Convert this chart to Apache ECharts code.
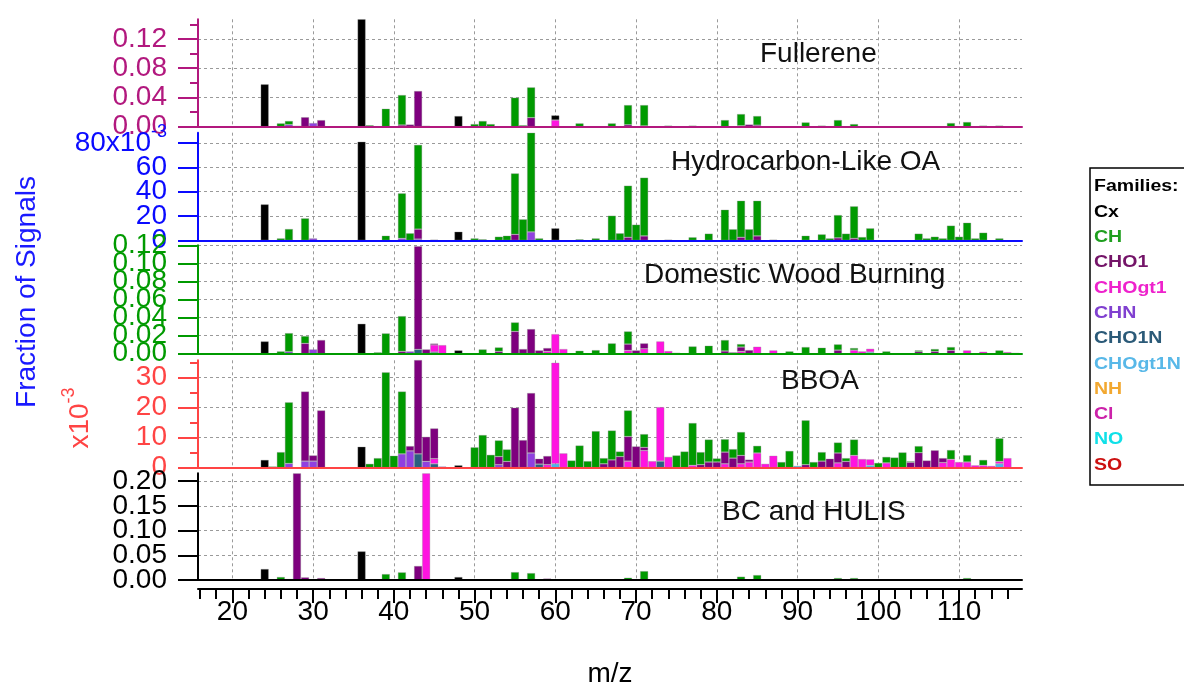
<!DOCTYPE html>
<html><head><meta charset="utf-8">
<script src="https://cdn.jsdelivr.net/npm/echarts@6/dist/echarts.min.js"></script>
<style>html,body{margin:0;padding:0;background:#fff}#c{width:1184px;height:686px}</style>
</head><body><div id="c"></div>
<script>
// ---------------- DATA ----------------
const mzValues = [16,17,18,19,20,21,22,23,24,25,26,27,28,29,30,31,32,33,34,35,36,37,38,39,40,41,42,43,44,45,46,47,48,49,50,51,52,53,54,55,56,57,58,59,60,61,62,63,64,65,66,67,68,69,70,71,72,73,74,75,76,77,78,79,80,81,82,83,84,85,86,87,88,89,90,91,92,93,94,95,96,97,98,99,100,101,102,103,104,105,106,107,108,109,110,111,112,113,114,115,116,117];
const xTickValues = [20,30,40,50,60,70,80,90,100,110];
const panelTitles = ['Fullerene','Hydrocarbon-Like OA','Domestic Wood Burning','BBOA','BC and HULIS'];
const familyNames = ['Cx','CH','CHO1','CHOgt1','CHN','CHO1N','CHOgt1N','NH','Cl','NO','SO'];

// Fullerene
const fulCx = [[24,0.058],[36,0.147],[48,0.0146],[60,0.0064]];
const fulCH = [[26,0.0046],[27,0.005],[37,0.002],[39,0.0246],[41,0.041],[50,0.0036],[51,0.0078],[52,0.0036],[55,0.0397],[56,0.002],[57,0.0415],[63,0.0046],[67,0.0046],[69,0.027],[71,0.0285],[74,0.0015],[77,0.0015],[81,0.0091],[83,0.016],[85,0.0125],[91,0.0059],[93,0.0015],[95,0.0091],[97,0.0036],[109,0.005],[111,0.0064],[113,0.0015],[115,0.0015]];
const fulCHO1 = [[28,0.0012],[29,0.013],[31,0.009],[41,0.0023],[42,0.003],[43,0.0488],[57,0.0123],[69,0.0026],[71,0.0011],[83,0.0013],[84,0.003],[85,0.0021]];
const fulCHOgt1 = [[60,0.0091]];
const fulCHN = [[27,0.0028],[30,0.005],[44,0.0012]];
// Hydrocarbon-Like OA
const hoaCx = [[24,0.0296],[36,0.0812],[48,0.0071],[60,0.0099]];
const hoaCH = [[26,0.0016],[27,0.0093],[29,0.0181],[39,0.0038],[41,0.0371],[42,0.0058],[43,0.0694],[50,0.0016],[51,0.0008],[53,0.003],[54,0.0038],[55,0.0502],[56,0.0173],[57,0.0817],[58,0.0016],[63,0.0008],[65,0.0016],[67,0.0203],[68,0.0058],[69,0.0425],[70,0.0129],[71,0.048],[74,0.0005],[77,0.0025],[79,0.0055],[81,0.0252],[82,0.0091],[83,0.0301],[84,0.0091],[85,0.029],[91,0.0038],[93,0.0049],[94,0.0016],[95,0.0188],[96,0.0055],[97,0.0264],[98,0.0027],[99,0.0099],[105,0.0055],[106,0.0016],[107,0.003],[108,0.0016],[109,0.0121],[110,0.003],[111,0.0145],[112,0.0016],[113,0.0063],[115,0.0016]];
const hoaCHO1 = [[43,0.0082],[55,0.0049],[69,0.0025],[71,0.0036],[83,0.0025],[85,0.0036],[95,0.002],[97,0.0016]];
const hoaCHOgt1 = [[45,0.0005],[87,0.0005]];
const hoaCHN = [[30,0.0016],[41,0.0016],[43,0.001],[57,0.0069]];
// Domestic Wood Burning
const dwbCx = [[24,0.0137],[36,0.0333],[48,0.0037]];
const dwbCH = [[26,0.0026],[27,0.0207],[29,0.0081],[38,0.0015],[39,0.0226],[41,0.0392],[51,0.0048],[53,0.0044],[55,0.01],[63,0.0033],[65,0.004],[67,0.0115],[69,0.0141],[77,0.0081],[79,0.0089],[81,0.0122],[83,0.0033],[89,0.0026],[91,0.0074],[93,0.0067],[95,0.0064],[97,0.0023],[101,0.0026],[105,0.0015],[107,0.0026],[109,0.0037],[115,0.0037],[117,0.0008]];
const dwbCHO1 = [[29,0.0115],[31,0.0152],[41,0.0026],[43,0.1147],[44,0.0048],[45,0.0015],[53,0.0026],[55,0.0248],[56,0.0052],[57,0.0274],[58,0.0037],[59,0.0037],[69,0.007],[70,0.0037],[71,0.006],[75,0.001],[81,0.003],[82,0.0015],[83,0.0048],[84,0.004],[95,0.004],[105,0.0022],[107,0.0026],[109,0.0037]];
const dwbCHOgt1 = [[45,0.008],[46,0.0096],[59,0.0026],[60,0.0218],[61,0.0052],[69,0.0037],[71,0.0055],[73,0.0137],[74,0.003],[83,0.0026],[85,0.0078],[87,0.0037],[97,0.004],[98,0.0026],[99,0.0037],[111,0.0037],[113,0.0022],[116,0.0018]];
const dwbCHN = [[27,0.0022],[30,0.0048],[42,0.0026]];
const dwbCHO1N = [[43,0.0048],[45,0.0018]];
const dwbCHOgt1N = [[99,0.0018]];
// BBOA
const bbCx = [[24,0.0026],[36,0.007],[48,0.0008]];
const bbCH = [[25,0.0004],[26,0.0052],[27,0.0204],[37,0.0013],[38,0.0032],[39,0.0318],[40,0.004],[41,0.0208],[50,0.0068],[51,0.0109],[52,0.0043],[53,0.0054],[54,0.004],[62,0.0024],[63,0.0074],[64,0.0022],[65,0.0122],[66,0.0019],[67,0.0098],[68,0.0017],[69,0.0087],[71,0.0044],[75,0.0041],[76,0.0054],[77,0.0141],[78,0.0042],[79,0.0075],[80,0.0012],[81,0.0043],[82,0.003],[83,0.0078],[85,0.0024],[88,0.0019],[89,0.0056],[91,0.0148],[92,0.0019],[93,0.003],[95,0.0035],[96,0.0011],[97,0.0053],[100,0.0016],[101,0.002],[102,0.0034],[103,0.0051],[104,0.0003],[105,0.0022],[109,0.0031],[111,0.0023],[113,0.0018],[115,0.0077]];
const bbCHO1 = [[29,0.0232],[30,0.0019],[31,0.0191],[42,0.0016],[43,0.0314],[44,0.0082],[45,0.0101],[53,0.0027],[54,0.0021],[55,0.02],[56,0.0092],[57,0.02],[58,0.0018],[59,0.0029],[66,0.0013],[67,0.0026],[68,0.0037],[69,0.0082],[70,0.0071],[71,0.0011],[78,0.001],[79,0.0019],[80,0.0019],[81,0.0039],[82,0.0032],[83,0.0028],[84,0.0008],[91,0.001],[93,0.0022],[94,0.003],[95,0.0033],[96,0.0021],[104,0.0018],[105,0.005],[106,0.0024],[107,0.0058],[108,0.0015]];
const bbCHOgt1 = [[45,0.0017],[59,0.001],[60,0.0337],[61,0.0048],[69,0.0022],[71,0.0057],[72,0.0022],[73,0.018],[74,0.0036],[77,0.0008],[81,0.0013],[83,0.0013],[84,0.0019],[85,0.0049],[86,0.0013],[87,0.004],[95,0.0016],[97,0.0041],[98,0.0029],[99,0.002],[101,0.0016],[108,0.0017],[109,0.0028],[110,0.0019],[111,0.0019],[112,0.0008],[113,0.0008],[114,0.0006],[115,0.0008],[116,0.0032]];
const bbCHN = [[27,0.0014],[29,0.0022],[30,0.0022],[41,0.0046],[42,0.0056],[44,0.0021],[46,0.0004],[53,0.001],[57,0.0049]];
const bbCHO1N = [[43,0.0046],[45,0.0013],[58,0.0012],[73,0.0022]];
const bbCHOgt1N = [[60,0.0013],[90,0.0006],[99,0.0008],[115,0.0013]];
// BC and HULIS
const bchCx = [[24,0.0223],[36,0.058],[48,0.006]];
const bchCH = [[26,0.0061],[27,0.002],[39,0.012],[41,0.0155],[55,0.016],[57,0.014],[69,0.0047],[71,0.018],[83,0.0068],[85,0.01],[95,0.004],[97,0.004],[111,0.004]];
const bchCHO1 = [[28,0.216],[29,0.0054],[31,0.004],[43,0.0284],[59,0.003]];
const bchCHOgt1 = [[44,0.216]];

const panelData = [
  {Cx:fulCx, CH:fulCH, CHO1:fulCHO1, CHOgt1:fulCHOgt1, CHN:fulCHN},
  {Cx:hoaCx, CH:hoaCH, CHO1:hoaCHO1, CHOgt1:hoaCHOgt1, CHN:hoaCHN},
  {Cx:dwbCx, CH:dwbCH, CHO1:dwbCHO1, CHOgt1:dwbCHOgt1, CHN:dwbCHN, CHO1N:dwbCHO1N, CHOgt1N:dwbCHOgt1N},
  {Cx:bbCx, CH:bbCH, CHO1:bbCHO1, CHOgt1:bbCHOgt1, CHN:bbCHN, CHO1N:bbCHO1N, CHOgt1N:bbCHOgt1N},
  {Cx:bchCx, CH:bchCH, CHO1:bchCHO1, CHOgt1:bchCHOgt1}
];

// ---------------- STYLE / LAYOUT ----------------
const FONT = 'Liberation Sans, Arial, sans-serif';
const barColor = {Cx:'#000000', CH:'#009a00', CHO1:'#7e007e', CHOgt1:'#ff14e0', CHN:'#9040e0', CHO1N:'#2a5f80', CHOgt1N:'#48b4f0'};
const legendColor = {Cx:'#000000', CH:'#1f9f1f', CHO1:'#741468', CHOgt1:'#ee22cc', CHN:'#8040d0', CHO1N:'#2b5a78', CHOgt1N:'#58b8e8', NH:'#f2a830', Cl:'#cc22aa', NO:'#10e0e8', SO:'#cc1111'};
const stackOrder = ['CHOgt1N','CHO1N','CHN','CHOgt1','CHO1','CH','Cx'];
const XMIN = 15.74, XMAX = 117.8, PLOT_LEFT = 198, PLOT_RIGHT = 1022;
const ppu = (PLOT_RIGHT - PLOT_LEFT) / (XMAX - XMIN);
const GRID_LINE = {color:'#9a9a9a', type:[3,3], width:1};

const panels = [
  {color:'#b2187e', top:19.3, base:126.7, max:0.1468, major:0.04, lastMajor:0.12, minor:0.02, lastMinor:0.14, fmt:v=>v.toFixed(2), tx:760, ty:40},
  {color:'#0a0aff', top:132.7, base:240.3, max:0.0886, major:0.02, lastMajor:0.08, fmt:v=>{const n=Math.round(v*1000); return n===80?'{n|80x10}{s|-3}':'{n|'+n+'}';}, rich:true, tx:671, ty:148},
  {color:'#009a00', top:245.3, base:353.7, max:0.1205, major:0.02, lastMajor:0.12, fmt:v=>v.toFixed(2), tx:644, ty:261},
  {color:'#ff4444', top:360.3, base:467.7, max:0.0358, major:0.01, lastMajor:0.03, minor:0.005, lastMinor:0.035, fmt:v=>String(Math.round(v*1000)), tx:781, ty:367},
  {color:'#000000', top:473.3, base:580, max:0.216, major:0.05, lastMajor:0.20, fmt:v=>v.toFixed(2), tx:722, ty:498}
];

const grids=[], xAxes=[], yAxes=[], series=[], titles=[];
function addGrid(left, top, width, height){ grids.push({left, top, width, height}); return grids.length-1; }
function addX(o){ xAxes.push(o); return xAxes.length-1; }
function addY(o){ yAxes.push(o); return yAxes.length-1; }
const noTick={show:false}, noLabel={show:false}, noSplit={show:false}, noLine={show:false};
const r6 = v => Math.round(v*1e6)/1e6;

panels.forEach((p,i)=>{
  const H = p.base - p.top, W = PLOT_RIGHT - PLOT_LEFT;
  const ypx = v => H * v / p.max;
  // vertical dashed grid lines
  const gV = addGrid(PLOT_LEFT + (xTickValues[0]-XMIN)*ppu, p.top, (xTickValues[xTickValues.length-1]-xTickValues[0])*ppu, H);
  addX({type:'value', gridIndex:gV, min:xTickValues[0], max:xTickValues[xTickValues.length-1], interval:10, axisLine:noLine, axisTick:noTick, axisLabel:noLabel, splitLine:{show:true, lineStyle:GRID_LINE}});
  addY({type:'value', gridIndex:gV, min:0, max:1, show:false});
  // major ticks + horizontal grid lines
  const gM = addGrid(PLOT_LEFT, p.base - ypx(p.lastMajor), W, ypx(p.lastMajor));
  addX({type:'value', gridIndex:gM, min:XMIN, max:XMAX, show:false});
  addY({type:'value', gridIndex:gM, min:0, max:p.lastMajor, interval:p.major, axisLine:noLine,
        axisTick:{show:true, length:20, lineStyle:{color:p.color, width:2}}, axisLabel:noLabel,
        splitLine:{show:true, showMinLine:false, lineStyle:GRID_LINE}});
  // tick labels, split into two axes (even / odd ticks) so neighbouring labels never collide
  [0,1].forEach(par=>{
    const start = par * p.major, step = 2 * p.major;
    const span = r6(Math.floor(r6((p.lastMajor - start) / step)) * step);
    const h = Math.max(ypx(span), 0.5);
    const g = addGrid(PLOT_LEFT, p.base - ypx(start) - h, W, h);
    addX({type:'value', gridIndex:g, min:XMIN, max:XMAX, show:false});
    const lab = {show:true, color:p.color, fontSize:28, fontFamily:FONT, margin:31,
                 formatter:v=>p.fmt(r6(v + start)), showMinLabel:true, showMaxLabel:true};
    if (p.rich) lab.rich = {n:{fontSize:28, color:p.color, fontFamily:FONT, lineHeight:40}, s:{fontSize:18, color:p.color, fontFamily:FONT, verticalAlign:'top', lineHeight:18}};
    addY({type:'value', gridIndex:g, min:0, max:span > 0 ? span : step, interval:step, axisLine:noLine, axisTick:noTick, axisLabel:lab, splitLine:noSplit});
  });
  // minor ticks
  if (p.minor) {
    const gm = addGrid(PLOT_LEFT, p.base - ypx(p.lastMinor), W, ypx(p.lastMinor));
    addX({type:'value', gridIndex:gm, min:XMIN, max:XMAX, show:false});
    addY({type:'value', gridIndex:gm, min:0, max:p.lastMinor, interval:p.minor, axisLine:noLine,
          axisTick:{show:true, length:8, lineStyle:{color:p.color, width:2}}, axisLabel:noLabel, splitLine:noSplit});
  }
  // data grid (category axis aligned to m/z)
  const gD = addGrid(PLOT_LEFT + (mzValues[0]-0.5-XMIN)*ppu, p.top, mzValues.length*ppu, H);
  const xD = addX({type:'category', gridIndex:gD, data:mzValues.map(String), boundaryGap:true, show:false});
  const yD = addY({type:'value', gridIndex:gD, min:0, max:p.max, show:false});
  // frame axes (colored axis lines)
  const gF = addGrid(PLOT_LEFT, p.top, W, H);
  addX({type:'value', gridIndex:gF, min:XMIN, max:XMAX, z:6, axisLine:{show:true, onZero:false, lineStyle:{color:p.color, width:2}}, axisTick:noTick, axisLabel:noLabel, splitLine:noSplit});
  addY({type:'value', gridIndex:gF, min:0, max:p.max, z:6, axisLine:{show:true, onZero:false, lineStyle:{color:p.color, width:2}}, axisTick:noTick, axisLabel:noLabel, splitLine:noSplit});
  // bars
  stackOrder.forEach(f=>{
    const pairs = panelData[i][f];
    if (!pairs || !pairs.length) return;
    const m = new Map(pairs);
    series.push({type:'bar', name:f, xAxisIndex:xD, yAxisIndex:yD, stack:'p'+i, barCategoryGap:'0%',
      data: mzValues.map(v => m.has(v) ? m.get(v) : null),
      itemStyle:{color:barColor[f], borderColor:'rgba(140,140,140,0.55)', borderWidth:0.6},
      silent:true, animation:false});
  });
  titles.push({text:panelTitles[i], left:p.tx, top:p.ty, padding:0, textStyle:{fontSize:28, fontWeight:'normal', color:'#111', fontFamily:FONT}});
});

// bottom m/z axis
const BOT_Y = 589;
{
  const gBm = addGrid(PLOT_LEFT + (16-XMIN)*ppu, BOT_Y-1, 100*ppu, 1);
  addX({type:'value', gridIndex:gBm, min:16, max:116, interval:2, axisLine:noLine, axisTick:{show:true, length:10, lineStyle:{color:'#000', width:2}}, axisLabel:noLabel, splitLine:noSplit});
  addY({type:'value', gridIndex:gBm, min:0, max:1, show:false});
  const gBM = addGrid(PLOT_LEFT + (xTickValues[0]-XMIN)*ppu, BOT_Y-1, (xTickValues[xTickValues.length-1]-xTickValues[0])*ppu, 1);
  addX({type:'value', gridIndex:gBM, min:xTickValues[0], max:xTickValues[xTickValues.length-1], interval:10, axisLine:noLine, axisTick:{show:true, length:14, lineStyle:{color:'#000', width:2}}, axisLabel:{show:true, fontSize:28, fontFamily:FONT, color:'#000', margin:9, showMinLabel:true, showMaxLabel:true}, splitLine:noSplit});
  addY({type:'value', gridIndex:gBM, min:0, max:1, show:false});
  const gBL = addGrid(PLOT_LEFT, BOT_Y-1, PLOT_RIGHT-PLOT_LEFT, 1);
  addX({type:'value', gridIndex:gBL, min:XMIN, max:XMAX, axisLine:{show:true, onZero:false, lineStyle:{color:'#000', width:2}}, axisTick:noTick, axisLabel:noLabel, splitLine:noSplit,
        name:'m/z', nameLocation:'middle', nameGap:72, nameTextStyle:{fontSize:28, fontFamily:FONT, color:'#000'}});
  addY({type:'value', gridIndex:gBL, min:0, max:1, show:false});
}

// legend + axis names as graphics
const graphics = [
  {type:'text', x:27, y:292, rotation:Math.PI/2, style:{text:'Fraction of Signals', fill:'#1a1aff', fontSize:28, fontFamily:FONT, align:'center', verticalAlign:'middle'}},
  {type:'text', x:80, y:418, rotation:Math.PI/2, style:{text:'{a|x10}{b|-3}', align:'center', verticalAlign:'middle',
     rich:{a:{fontSize:28, fontFamily:FONT, fill:'#ff4444', lineHeight:40}, b:{fontSize:18, fontFamily:FONT, fill:'#ff4444', verticalAlign:'top', lineHeight:18}}}},
  {type:'rect', shape:{x:1090, y:168, width:130, height:317}, style:{fill:'#fff', stroke:'#000', lineWidth:1.5}, z:10}
];
const legendRows = [['Families:','#000000']].concat(familyNames.map(f=>[f, legendColor[f]]));
legendRows.forEach((r,k)=>{
  graphics.push({type:'text', x:1094, y:187 + k*25.3, scaleX:1.22, z:11,
    style:{text:r[0], fill:r[1], fontSize:16, fontWeight:'bold', fontFamily:FONT, verticalAlign:'middle', align:'left'}});
});

const chart = echarts.init(document.getElementById('c'), null, {renderer:'canvas'});
chart.setOption({
  animation:false,
  backgroundColor:'#ffffff',
  title:titles,
  grid:grids, xAxis:xAxes, yAxis:yAxes, series:series,
  graphic:graphics
});
</script></body></html>
